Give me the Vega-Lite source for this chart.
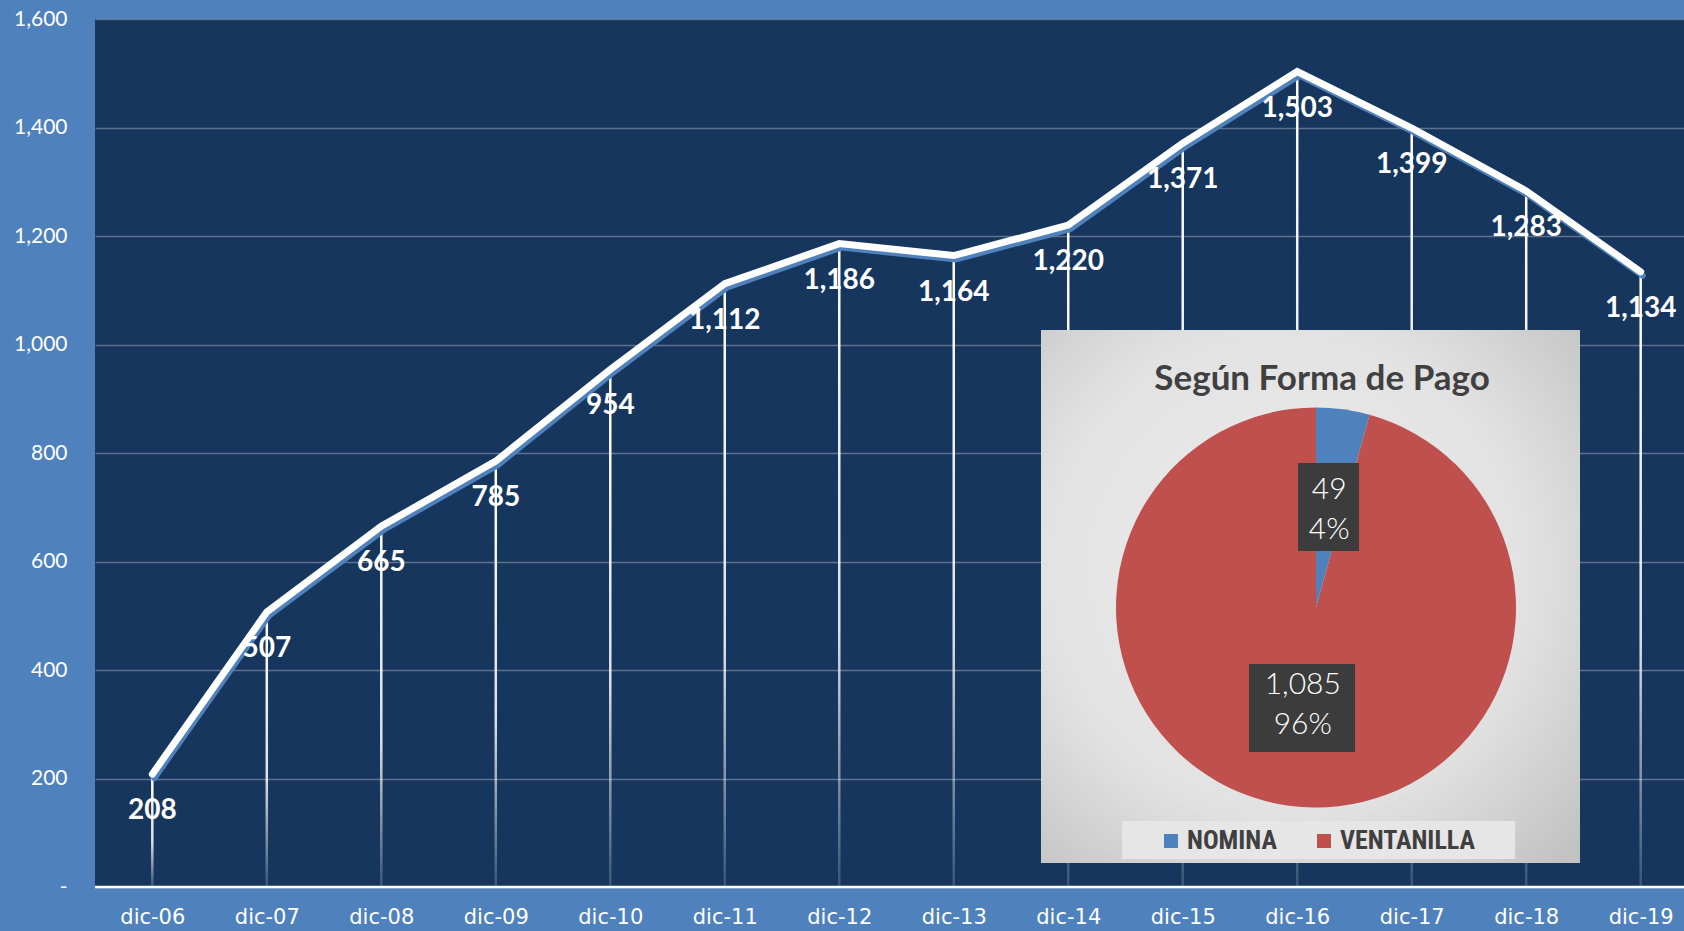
{
  "$schema": "https://vega.github.io/schema/vega-lite/v6.json",
  "width": 1589,
  "height": 868,
  "autosize": {"type": "none"},
  "padding": {"left": 95, "top": 19, "right": 0, "bottom": 44},
  "background": "#4F81BD",
  "config": {"view": {"fill": "#17365D", "stroke": null}},
  "layer": [
    {
      "data": {"values": [
        {"anio": 2006, "valor": 208},
        {"anio": 2007, "valor": 507},
        {"anio": 2008, "valor": 665},
        {"anio": 2009, "valor": 785},
        {"anio": 2010, "valor": 954},
        {"anio": 2011, "valor": 1112},
        {"anio": 2012, "valor": 1186},
        {"anio": 2013, "valor": 1164},
        {"anio": 2014, "valor": 1220},
        {"anio": 2015, "valor": 1371},
        {"anio": 2016, "valor": 1503},
        {"anio": 2017, "valor": 1399},
        {"anio": 2018, "valor": 1283},
        {"anio": 2019, "valor": 1134}
      ]},
      "encoding": {
        "x": {
          "field": "anio", "type": "quantitative",
          "scale": {"domain": [2005.4995, 2019.3782], "nice": false, "zero": false, "padding": 0},
          "axis": {"title": null, "values": [2006, 2007, 2008, 2009, 2010, 2011, 2012, 2013, 2014, 2015, 2016, 2017, 2018, 2019],
                   "labelExpr": "'dic-' + slice(toString(datum.value), 2)",
                   "labelFont": "DejaVu Sans", "labelFontSize": 21, "labelColor": "#FFFFFF",
                   "ticks": false, "tickSize": 0, "domain": false, "grid": false, "labelPadding": 30,
                   "labelBaseline": "middle", "labelAngle": 0, "labelFlush": false, "labelOverlap": false}
        },
        "y": {
          "field": "valor", "type": "quantitative", "stack": null,
          "scale": {"domain": [0, 1600], "nice": false},
          "axis": {"title": null, "values": [0, 200, 400, 600, 800, 1000, 1200, 1400, 1600],
                   "labelExpr": "datum.value === 0 ? '-  ' : format(datum.value, ',')",
                   "labelFont": "Lato", "labelFontSize": 21, "labelColor": "#FFFFFF",
                   "ticks": false, "tickSize": 0, "domain": false, "grid": true,
                   "gridColor": "#FFFFFF", "gridOpacity": 0.3, "gridWidth": 1.5, "labelPadding": 28}
        }
      },
      "layer": [
        {
          "mark": {"type": "bar", "width": 2.5,
                   "fill": {"gradient": "linear", "x1": 0, "y1": 0, "x2": 0, "y2": 1,
                            "stops": [{"offset": 0, "color": "#FFFFFF"},
                                      {"offset": 0.6, "color": "rgba(255,255,255,0.85)"},
                                      {"offset": 1, "color": "rgba(255,255,255,0.15)"}]}}
        },
        {
          "mark": {"type": "line", "color": "#4F81BD", "strokeWidth": 6, "xOffset": 2, "yOffset": 4, "strokeCap": "round", "strokeJoin": "miter"}
        },
        {
          "mark": {"type": "line", "color": "#FFFFFF", "strokeWidth": 7, "strokeCap": "round", "strokeJoin": "miter"}
        },
        {
          "mark": {"type": "text", "color": "#FFFFFF", "font": "Lato", "fontWeight": "bold", "fontSize": 28, "dy": 37, "baseline": "middle", "align": "center"},
          "encoding": {"text": {"field": "valor", "type": "quantitative", "format": ","}}
        }
      ]
    },
    {
      "data": {"values": [{}]},
      "mark": {"type": "rule", "color": "#FFFFFF", "strokeWidth": 2.5},
      "encoding": {"y": {"datum": 0, "type": "quantitative"}}
    },
    {
      "data": {"values": [{}]},
      "mark": {"type": "rect", "fill": "#000000", "opacity": 0.35, "xOffset": 3, "yOffset": 3},
      "encoding": {
        "x": {"datum": 2013.762, "type": "quantitative"},
        "x2": {"datum": 2018.47},
        "y": {"datum": 1026.7, "type": "quantitative"},
        "y2": {"datum": 44.2}
      }
    },
    {
      "data": {"values": [{}]},
      "mark": {"type": "rect",
               "fill": {"gradient": "radial", "x1": 0.45, "y1": 0.45, "x2": 0.45, "y2": 0.45, "r1": 0, "r2": 0.75,
                        "stops": [{"offset": 0, "color": "#EEEEEE"}, {"offset": 0.6, "color": "#E2E2E2"}, {"offset": 1, "color": "#C2C2C2"}]}},
      "encoding": {
        "x": {"datum": 2013.762, "type": "quantitative"},
        "x2": {"datum": 2018.47},
        "y": {"datum": 1026.7, "type": "quantitative"},
        "y2": {"datum": 44.2}
      }
    },
    {
      "data": {"values": [{}]},
      "mark": {"type": "text", "text": "Según Forma de Pago", "font": "Lato", "fontWeight": "bold", "fontSize": 35, "color": "#404040", "align": "center", "baseline": "alphabetic"},
      "encoding": {
        "x": {"datum": 2016.217, "type": "quantitative"},
        "y": {"datum": 916, "type": "quantitative"}
      }
    },
    {
      "data": {"values": [{}]},
      "mark": {"type": "rect", "fill": "#E6E6E6"},
      "encoding": {
        "x": {"datum": 2014.47, "type": "quantitative"},
        "x2": {"datum": 2017.903},
        "y": {"datum": 121.7, "type": "quantitative"},
        "y2": {"datum": 51.6}
      }
    },
    {
      "data": {"values": [
        {"forma": "NOMINA", "n": 49},
        {"forma": "VENTANILLA", "n": 1085}
      ]},
      "mark": {"type": "arc", "outerRadius": 200},
      "encoding": {
        "x": {"datum": 2016.164, "type": "quantitative"},
        "y": {"datum": 515.2, "type": "quantitative"},
        "theta": {"field": "n", "type": "quantitative", "stack": true},
        "order": {"field": "n", "type": "quantitative", "sort": "ascending"},
        "color": {"field": "forma", "type": "nominal",
                  "scale": {"domain": ["NOMINA", "VENTANILLA"], "range": ["#4F81BD", "#C0504D"]},
                  "legend": {"orient": "none", "legendX": 1063, "legendY": 809, "direction": "horizontal", "title": null,
                             "symbolType": "square", "symbolSize": 196, "symbolStrokeWidth": 0, "symbolOpacity": 1,
                             "labelFont": "Liberation Sans Narrow, Roboto Condensed, Roboto", "labelFontWeight": "bold", "labelFontSize": 26, "labelColor": "#404040",
                             "columnPadding": 33, "labelOffset": 3, "padding": 0, "gridAlign": "none"}}
      }
    },
    {
      "data": {"values": [{}]},
      "mark": {"type": "rect", "fill": "#3C3C3C"},
      "encoding": {
        "x": {"datum": 2016.007, "type": "quantitative"},
        "x2": {"datum": 2016.54},
        "y": {"datum": 781.6, "type": "quantitative"},
        "y2": {"datum": 619.4}
      }
    },
    {
      "data": {"values": [{}]},
      "mark": {"type": "rect", "fill": "#3C3C3C"},
      "encoding": {
        "x": {"datum": 2015.579, "type": "quantitative"},
        "x2": {"datum": 2016.505},
        "y": {"datum": 411.1, "type": "quantitative"},
        "y2": {"datum": 248.8}
      }
    },
    {
      "data": {"values": [
        {"forma": "NOMINA", "n": 49},
        {"forma": "VENTANILLA", "n": 1085}
      ]},
      "transform": [
        {"joinaggregate": [{"op": "sum", "field": "n", "as": "total"}]},
        {"calculate": "format(datum.n, ',') + '\\n' + format(datum.n / datum.total, '.0%')", "as": "etiqueta"}
      ],
      "mark": {"type": "text", "radius": 98, "dy": -20, "lineBreak": "\n", "lineHeight": 40, "font": "Lato", "fontWeight": 300, "fontSize": 30, "color": "#FFFFFF", "align": "center", "baseline": "middle"},
      "encoding": {
        "x": {"datum": 2016.164, "type": "quantitative"},
        "y": {"datum": 515.2, "type": "quantitative"},
        "theta": {"field": "n", "type": "quantitative", "stack": true},
        "order": {"field": "n", "type": "quantitative", "sort": "ascending"},
        "text": {"field": "etiqueta", "type": "nominal"}
      }
    }
  ]
}
